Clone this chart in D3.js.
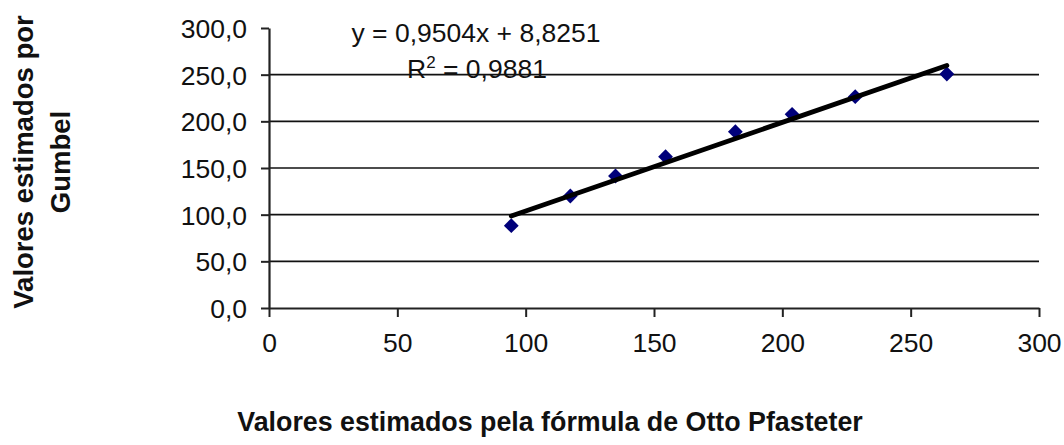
<!DOCTYPE html>
<html>
<head>
<meta charset="utf-8">
<script src="https://cdn.jsdelivr.net/npm/d3@7"></script>
<style>
  html, body { margin: 0; padding: 0; background: #fff; }
  svg { display: block; font-family: "Liberation Sans", Arial, sans-serif; }
</style>
</head>
<body>
<svg id="chart" width="1064" height="445"></svg>
<script>
// Flood estimates: Otto Pfasteter formula (x) vs Gumbel distribution (y)
const pfasteter = [94.4, 117.4, 135.0, 154.5, 181.7, 203.8, 228.4, 264.1];
const gumbel    = [88.2, 120.0, 141.4, 162.1, 188.9, 207.5, 226.4, 250.7];

// Linear trendline fitted to the series
const slope = 0.9504;
const intercept = 8.8251;
const rSquared = 0.9881;

const xTicks = [0, 50, 100, 150, 200, 250, 300];
const yTicks = [0, 50, 100, 150, 200, 250, 300];

const fmtComma = (v, digits) => v.toFixed(digits).replace(".", ",");

const svg = d3.select("#chart");

const plot = { left: 269, right: 1039, top: 28, bottom: 308 };

const x = d3.scaleLinear().domain([0, 300]).range([plot.left, plot.right]);
const y = d3.scaleLinear().domain([0, 300]).range([plot.bottom, plot.top]);

// Horizontal gridlines (none at the top of the range)
svg.append("g")
  .selectAll("line")
  .data(yTicks.filter(t => t > 0 && t < 300))
  .join("line")
  .attr("x1", plot.left)
  .attr("x2", plot.right)
  .attr("y1", d => y(d))
  .attr("y2", d => y(d))
  .attr("stroke", "#111")
  .attr("stroke-width", 1.6);

// Y axis
const yAxis = svg.append("g")
  .attr("transform", `translate(${plot.left},0)`)
  .call(d3.axisLeft(y).tickValues(yTicks).tickSize(8).tickSizeOuter(0)
    .tickFormat(d => fmtComma(d, 1)));

// X axis
const xAxis = svg.append("g")
  .attr("transform", `translate(0,${plot.bottom})`)
  .call(d3.axisBottom(x).tickValues(xTicks).tickSize(9).tickSizeOuter(0)
    .tickFormat(d => String(d)));

[yAxis, xAxis].forEach(g => {
  g.select(".domain").attr("stroke", "#222").attr("stroke-width", 2.2);
  g.selectAll(".tick line").attr("stroke", "#222").attr("stroke-width", 2);
  g.selectAll(".tick text")
    .attr("fill", "#111")
    .style("font-size", "26.5px")
    .style("font-family", "'Liberation Sans', Arial, sans-serif");
});
yAxis.selectAll(".tick text").attr("x", -22).attr("dy", "0.36em");
xAxis.selectAll(".tick text").attr("y", 25).attr("dy", "0.71em");

// Data points as diamonds
svg.append("g")
  .selectAll("path")
  .data(d3.range(pfasteter.length))
  .join("path")
  .attr("d", d3.symbol().type(d3.symbolSquare).size(110))
  .attr("transform", i => `translate(${x(pfasteter[i])},${y(gumbel[i])}) rotate(45)`)
  .attr("fill", "#00007a");

// Trendline spanning the data range
const xMin = d3.min(pfasteter), xMax = d3.max(pfasteter);
svg.append("line")
  .attr("x1", x(xMin))
  .attr("y1", y(slope * xMin + intercept))
  .attr("x2", x(xMax))
  .attr("y2", y(slope * xMax + intercept))
  .attr("stroke", "#000")
  .attr("stroke-width", 4.8)
  .attr("stroke-linecap", "round");

// Trendline equation and R²
const eq = svg.append("g").attr("fill", "#111").style("font-size", "26.5px");
eq.append("text")
  .attr("x", 476).attr("y", 42)
  .attr("text-anchor", "middle")
  .text(`y = ${fmtComma(slope, 4)}x + ${fmtComma(intercept, 4)}`);
const r2 = eq.append("text")
  .attr("x", 477).attr("y", 78)
  .attr("text-anchor", "middle");
r2.append("tspan").text("R");
r2.append("tspan").attr("dy", -10).style("font-size", "17px").text("2");
r2.append("tspan").attr("dy", 10).text(` = ${fmtComma(rSquared, 4)}`);

// Axis titles
svg.append("text")
  .attr("x", 550).attr("y", 431)
  .attr("text-anchor", "middle")
  .attr("fill", "#111")
  .style("font-size", "26.8px")
  .style("font-weight", "bold")
  .text("Valores estimados pela fórmula de Otto Pfasteter");

const yTitle = svg.append("text")
  .attr("transform", "translate(33,162) rotate(-90)")
  .attr("text-anchor", "middle")
  .attr("fill", "#111")
  .style("font-size", "27.5px")
  .style("font-weight", "bold");
yTitle.append("tspan").attr("x", 0).attr("y", 0).text("Valores estimados por");
yTitle.append("tspan").attr("x", 0).attr("y", 37).text("Gumbel");
</script>
</body>
</html>
